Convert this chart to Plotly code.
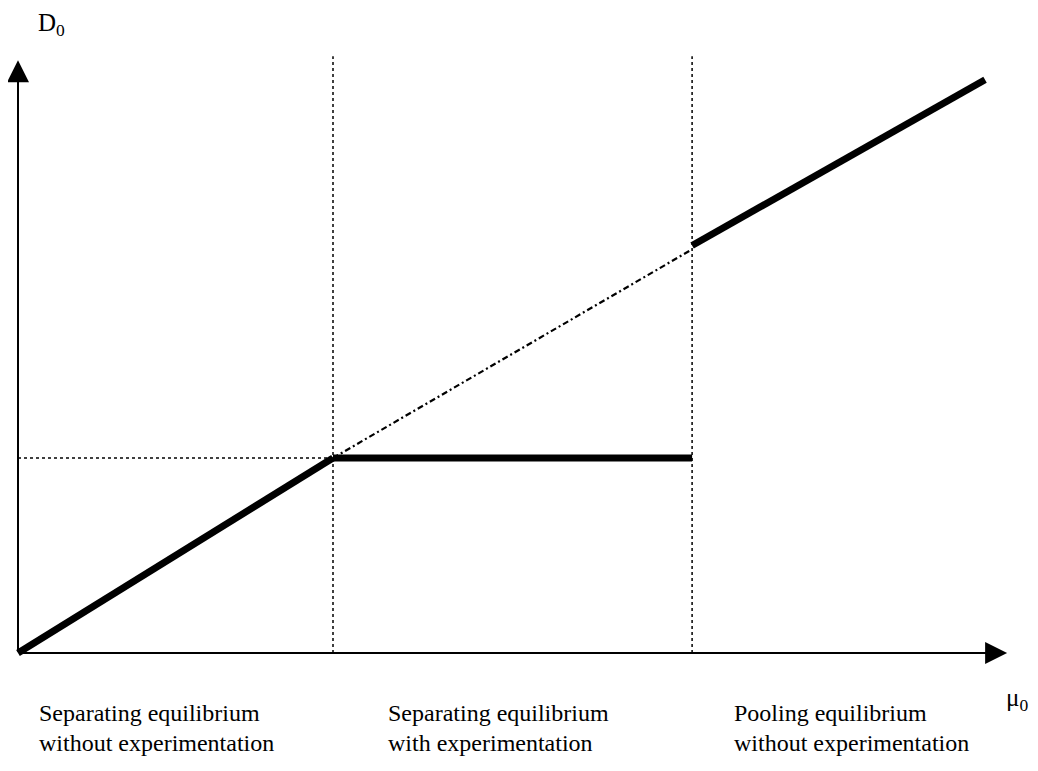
import plotly.graph_objects as go

# ---- schematic data (units: mu0 on x, D0 on y) ----
mu_sep = [0.0, 1.0]          # separating equilibrium without experimentation
D_sep = [0.0, 1.0]
mu_exp = [1.0, 2.14]         # separating equilibrium with experimentation
D_exp = [1.0, 1.0]
mu_dash = [1.0, 2.14]        # continuation of 45-degree line (dash-dot)
D_dash = [1.0, 2.07]
mu_pool = [2.14, 3.07]       # pooling equilibrium without experimentation
D_pool = [2.09, 2.94]
mu_thresholds = [1.0, 2.14]
threshold_top = 3.06
D_level = 1.0
mu_axis_max = 3.14
D_axis_max = 3.04
region_labels = [
    ("Separating equilibrium", "without experimentation"),
    ("Separating equilibrium", "with experimentation"),
    ("Pooling equilibrium", "without experimentation"),
]
region_label_x = [0.06, 1.168, 2.267]
x_title = "μ<sub>0</sub>"
y_title = "D<sub>0</sub>"

# page body has an 8px margin; compensate so the picture sits like the reference
PAD = 8
W, H = 1038 - PAD, 771 - PAD
ox, oy = 18 - PAD, 653 - PAD
sx, sy = 315.0, 195.0
xr = [-ox / sx, (W - ox) / sx]
yr = [-(H - oy) / sy, oy / sy]


def px_y(py):
    """reference pixel row -> data y"""
    return (653 - py) / sy


def px_x(px):
    return (px - 18) / sx


fig = go.Figure()
font_family = "Liberation Serif, Times New Roman, serif"

# dotted reference lines
for m in mu_thresholds:
    fig.add_trace(go.Scatter(x=[m, m], y=[0, threshold_top], mode="lines",
                             line=dict(color="black", width=1.5, dash="dot"),
                             hoverinfo="skip", showlegend=False))
fig.add_trace(go.Scatter(x=[0, mu_thresholds[0]], y=[D_level, D_level], mode="lines",
                         line=dict(color="black", width=1.5, dash="dot"),
                         hoverinfo="skip", showlegend=False))

# dash-dot continuation
fig.add_trace(go.Scatter(x=mu_dash, y=D_dash, mode="lines",
                         line=dict(color="black", width=2.2, dash="6px,3px,2px,3px"),
                         hoverinfo="skip", showlegend=False))

# thick segments
for xs, ys in [(mu_sep, D_sep), (mu_exp, D_exp), (mu_pool, D_pool)]:
    fig.add_trace(go.Scatter(x=xs, y=ys, mode="lines",
                             line=dict(color="black", width=7),
                             hoverinfo="skip", showlegend=False))

# axes with arrows
fig.add_annotation(x=mu_axis_max, y=0, ax=0, ay=0, xref="x", yref="y",
                   axref="x", ayref="y", text="", showarrow=True,
                   arrowhead=2, arrowsize=2.2, arrowwidth=2, arrowcolor="black")
fig.add_annotation(x=0, y=D_axis_max, ax=0, ay=0, xref="x", yref="y",
                   axref="x", ayref="y", text="", showarrow=True,
                   arrowhead=2, arrowsize=2.2, arrowwidth=2, arrowcolor="black")

# axis titles
fig.add_annotation(x=px_x(51), y=px_y(24), xref="x", yref="y", text=y_title,
                   showarrow=False, font=dict(family=font_family, size=25, color="black"))
fig.add_annotation(x=px_x(1017), y=px_y(699), xref="x", yref="y", text=x_title,
                   showarrow=False, font=dict(family=font_family, size=25, color="black"))

# region labels
for (l1, l2), xl in zip(region_labels, region_label_x):
    for txt, py in [(l1, 713), (l2, 743)]:
        fig.add_annotation(x=xl, y=px_y(py), xref="x", yref="y", text=txt,
                           showarrow=False, xanchor="left",
                           font=dict(family=font_family, size=24, color="black"))

fig.update_layout(
    width=W, height=H,
    margin=dict(l=0, r=0, t=0, b=0),
    paper_bgcolor="white", plot_bgcolor="white",
    xaxis=dict(range=xr, visible=False, showgrid=False, zeroline=False),
    yaxis=dict(range=yr, visible=False, showgrid=False, zeroline=False),
)

fig.write_html("out.html")
